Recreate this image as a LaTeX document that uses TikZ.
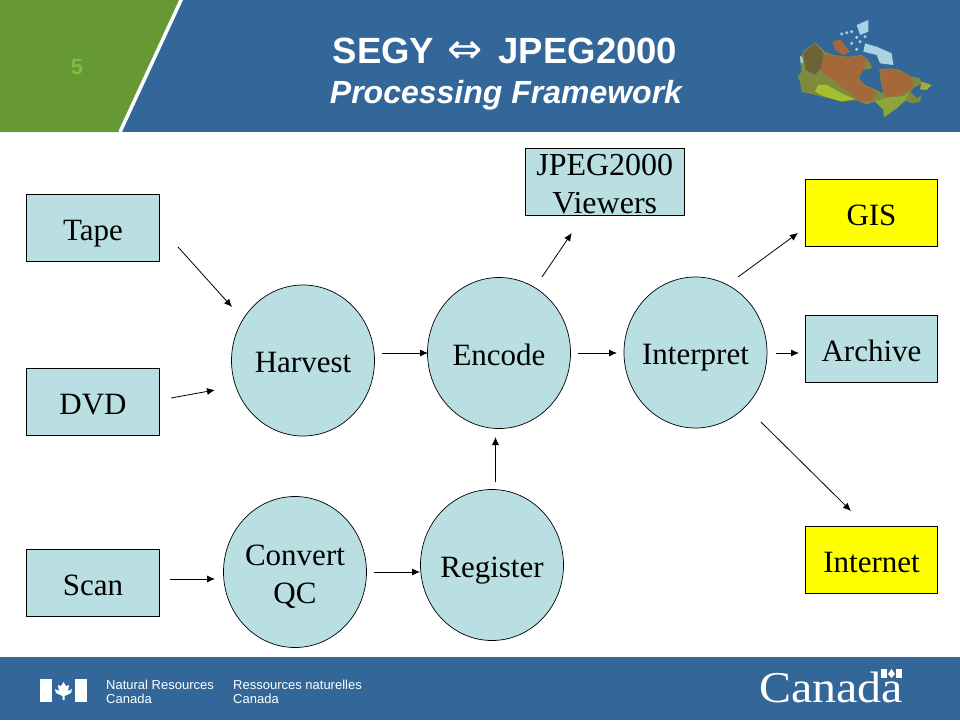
\documentclass[tikz,border=0pt]{standalone}
\usepackage{fontspec}
\setmainfont{Liberation Serif}
\setsansfont{Liberation Sans}
\newfontfamily\symfont{DejaVu Sans}
\usetikzlibrary{arrows.meta,shapes.geometric}
\definecolor{nrblue}{HTML}{336699}
\definecolor{nrgreen}{HTML}{669933}
\definecolor{numgreen}{HTML}{82BE42}
\definecolor{paleblue}{HTML}{B9DFE3}
\definecolor{signyellow}{HTML}{FFFF00}
\definecolor{mapbase}{HTML}{7E8A3C}
\definecolor{maprust}{HTML}{A5683A}
\definecolor{mapdark}{HTML}{6E6238}
\definecolor{maplime}{HTML}{A6BF2E}
\definecolor{mapgreen}{HTML}{8CA63A}
\definecolor{mapice}{HTML}{A9D3E2}
\tikzset{
  boxnode/.style={draw=black, fill=paleblue, line width=0.8pt, minimum width=133pt, minimum height=67pt, inner sep=0pt, font=\fontsize{31}{38}\selectfont, align=center, text height=24pt, text depth=0pt},
  yellownode/.style={boxnode, fill=signyellow},
  blobnode/.style={ellipse, draw=black, fill=paleblue, line width=0.7pt, minimum width=143pt, minimum height=151pt, inner ysep=0pt, inner xsep=-20pt, font=\fontsize{31}{38}\selectfont, align=center, text height=24pt, text depth=0pt},
  twolines/.style={text height=63pt},
  flow/.style={-{Latex[length=8pt,width=7pt]}, line width=0.8pt},
  whitetext/.style={text=white, inner sep=0pt},
}
\begin{document}
\begin{tikzpicture}[x=1pt,y=-1pt]
  \useasboundingbox (0,0) rectangle (960,720);

  % banner
  \fill[nrblue] (0,0) rectangle (960,132);
  \fill[nrgreen] (0,0) -- (180,0) -- (118,132) -- (0,132) -- cycle;
  \draw[white, line width=3.5pt] (182,-2) -- (120,132);
  \node[text=numgreen, font=\sffamily\bfseries\fontsize{22}{24}\selectfont] (pagenum) at (77,67) {5};
  \node[whitetext, anchor=base, font=\sffamily\bfseries\fontsize{36.5}{38}\selectfont] (title) at (505,63) {SEGY\hspace{3pt} {\symfont\mdseries\fontsize{42}{38}\selectfont ⇔}\hspace{6pt} JPEG2000};
  \node[whitetext, anchor=base, font=\sffamily\bfseries\itshape\fontsize{32}{38}\selectfont] (subtitle) at (506,103.5) {Processing Framework};

  % map
  \begin{scope}[xshift=785pt, yshift=-10pt, x=0.3333pt, y=-0.3333pt]
    \fill[mapbase] (45,150) -- (55,125) -- (90,97) -- (120,125) -- (145,135) -- (190,140) -- (230,135) -- (250,150) -- (262,175) -- (235,180) -- (220,205) -- (240,225) -- (275,240) -- (295,250) -- (285,200) -- (283,178) -- (320,175) -- (345,180) -- (380,200) -- (405,205) -- (410,220) -- (385,235) -- (375,245) -- (395,265) -- (410,255) -- (405,275) -- (385,280) -- (360,272) -- (335,295) -- (297,323) -- (295,300) -- (270,275) -- (245,283) -- (210,270) -- (170,275) -- (120,262) -- (50,245) -- (45,215) -- (38,200) -- (50,185) -- cycle;
    \fill[maprust] (100,130) -- (145,138) -- (190,142) -- (230,138) -- (248,152) -- (235,178) -- (218,205) -- (238,228) -- (275,245) -- (262,272) -- (225,275) -- (190,245) -- (150,215) -- (105,180) -- cycle;
    \fill[maprust] (285,180) -- (320,177) -- (345,182) -- (380,202) -- (385,232) -- (350,255) -- (305,262) -- (296,250) -- cycle;
    \fill[mapdark] (55,130) -- (90,100) -- (115,130) -- (110,170) -- (90,195) -- (62,180) -- cycle;
    \fill[maplime] (100,225) -- (125,225) -- (170,250) -- (210,268) -- (170,274) -- (120,260) -- (90,245) -- cycle;
    \fill[mapgreen] (270,273) -- (310,262) -- (360,258) -- (372,245) -- (360,272) -- (335,295) -- (297,321) -- (295,300) -- cycle;
    \fill[maprust] (142,95) -- (165,88) -- (195,125) -- (175,135) -- (150,120) -- cycle;
    \fill[maplime!80!maprust] (410,215) -- (440,225) -- (425,240) -- (405,238) -- cycle;
    \fill[mapice] (215,45) -- (250,30) -- (250,65) -- (225,75) -- cycle;
    \fill[mapice] (240,100) -- (275,110) -- (320,130) -- (325,165) -- (285,160) -- (275,135) -- (235,125) -- cycle;
    \fill[mapice] (45,138) -- (52,142) -- (54,160) -- (47,158) -- cycle;
    \foreach \isle in {(170,72),(185,68),(200,65),(215,82),(200,100),(225,95),(240,80),(215,118)}{
      \fill[mapice] \isle circle [radius=5];
    }
  \end{scope}

  % footer
  \fill[nrblue] (0,657) rectangle (960,720);
  \fill[white] (40,679) rectangle (52,702);
  \fill[white] (75,679) rectangle (87,702);
  \fill[white] (63.5,682) -- (66,686) -- (69,685) -- (68,691) -- (72,689) -- (71,693) -- (64.5,696) -- (64.5,700) -- (62.5,700) -- (62.5,696) -- (56,693) -- (55,689) -- (59,691) -- (58,685) -- (61,686) -- cycle;
  \node[whitetext, anchor=north west, align=left, font=\sffamily\fontsize{13}{14}\selectfont] (nrcan) at (106,679.5) {Natural Resources\\Canada};
  \node[whitetext, anchor=north west, align=left, font=\sffamily\fontsize{13}{14}\selectfont] (rncan) at (233,679.5) {Ressources naturelles\\Canada};
  \node[whitetext, anchor=base west, font=\fontsize{44}{44}\selectfont, xscale=1.09, transform shape] (wordmark) at (759,702) {Canada};
  \fill[white] (881,669) rectangle (887,678);
  \fill[white] (896,669) rectangle (902,678);
  \fill[white] (891.5,669) -- (895,674) -- (891.5,678) -- (888,674) -- cycle;

  % boxes
  \node[boxnode] (tape) at (93,228) {Tape};
  \node[boxnode] (dvd) at (93,402) {DVD};
  \node[boxnode] (scan) at (93,583) {Scan};
  \node[boxnode, twolines, minimum width=158.5pt, font=\fontsize{32}{38}\selectfont] (viewers) at (604.75,182) {JPEG2000\\Viewers};
  \node[yellownode, minimum width=132pt] (gis) at (871.5,213) {GIS};
  \node[boxnode, minimum width=132pt] (archive) at (871.5,349) {Archive};
  \node[yellownode, minimum width=132pt] (internet) at (871.5,560) {Internet};

  % circles
  \node[blobnode] (harvest) at (303,360.5) {Harvest};
  \node[blobnode] (encode) at (499,353) {Encode};
  \node[blobnode] (interpret) at (695.5,352.5) {Interpret};
  \node[blobnode, twolines] (convert) at (295,572) {Convert\\QC};
  \node[blobnode] (register) at (492,565) {Register};

  % arrows
  \draw[flow] ([shift={(85,19)}]tape.center) -- ([shift={(-71,-53.5)}]harvest.center);
  \draw[flow] ([shift={(78,-4)}]dvd.center) -- ([shift={(-88,29.5)}]harvest.center);
  \draw[flow] ([shift={(79,-7.5)}]harvest.center) -- ([shift={(-71,0)}]encode.center);
  \draw[flow] ([shift={(79,0)}]encode.center) -- ([shift={(-78.5,0.5)}]interpret.center);
  \draw[flow] ([shift={(80.5,0.5)}]interpret.center) -- ([shift={(-72.5,4)}]archive.center);
  \draw[flow] ([shift={(43,-76)}]encode.center) -- ([shift={(-33,51)}]viewers.center);
  \draw[flow] ([shift={(42.5,-75.5)}]interpret.center) -- ([shift={(-73.5,20)}]gis.center);
  \draw[flow] ([shift={(65.5,69.5)}]interpret.center) -- ([shift={(-20.5,-49)}]internet.center);
  \draw[flow] ([shift={(3.5,-83)}]register.center) -- ([shift={(-3.5,84)}]encode.center);
  \draw[flow] ([shift={(77,-4)}]scan.center) -- ([shift={(-80,7)}]convert.center);
  \draw[flow] ([shift={(79,0)}]convert.center) -- ([shift={(-72,7)}]register.center);
\end{tikzpicture}
\end{document}
